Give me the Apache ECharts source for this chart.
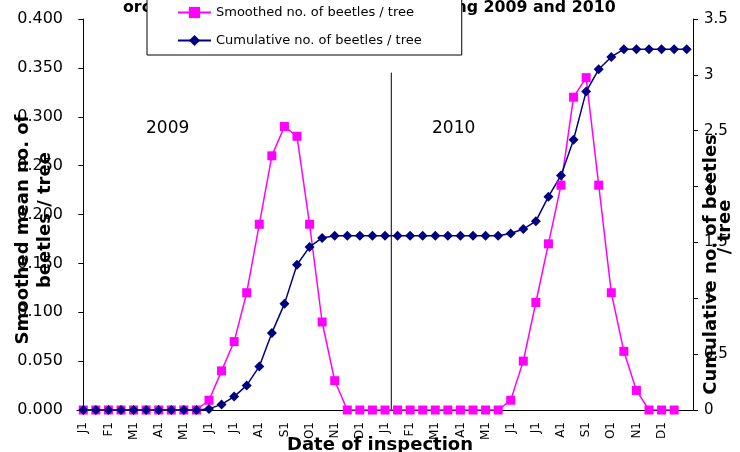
<!DOCTYPE html>
<html>
<head>
<meta charset="utf-8">
<script src="https://cdn.jsdelivr.net/npm/echarts@6/dist/echarts.min.js"></script>
<style>
html, body { margin: 0; padding: 0; background: #fff; }
#chart { width: 740px; height: 452px; }
</style>
</head>
<body>
<div id="chart"></div>
<script>
//检查日期 (每月1日和15日, 2009-2010)
var dates = [
	'J1', 'J15', 'F1', 'F15', 'M1', 'M15', 'A1', 'A15', 'M1', 'M15', 'J1', 'J15',
	'J1', 'J15', 'A1', 'A15', 'S1', 'S15', 'O1', 'O15', 'N1', 'N15', 'D1', 'D15',
	'J1', 'J15', 'F1', 'F15', 'M1', 'M15', 'A1', 'A15', 'M1', 'M15', 'J1', 'J15',
	'J1', 'J15', 'A1', 'A15', 'S1', 'S15', 'O1', 'O15', 'N1', 'N15', 'D1', 'D15',
	'J1'
];
//平滑后每树甲虫数 (左轴)
var smoothed = [
	0, 0, 0, 0, 0, 0, 0, 0, 0, 0, 0.01, 0.04,
	0.07, 0.12, 0.19, 0.26, 0.29, 0.28, 0.19, 0.09, 0.03, 0, 0, 0,
	0, 0, 0, 0, 0, 0, 0, 0, 0, 0, 0.01, 0.05,
	0.11, 0.17, 0.23, 0.32, 0.34, 0.23, 0.12, 0.06, 0.02, 0, 0, 0
];
//累计每树甲虫数 (右轴)
var cumulative = [
	0, 0, 0, 0, 0, 0, 0, 0, 0, 0, 0.01, 0.05,
	0.12, 0.22, 0.39, 0.69, 0.95, 1.30, 1.46, 1.54, 1.56, 1.56, 1.56, 1.56,
	1.56, 1.56, 1.56, 1.56, 1.56, 1.56, 1.56, 1.56, 1.56, 1.56, 1.58, 1.62,
	1.69, 1.91, 2.10, 2.42, 2.85, 3.05, 3.16, 3.23, 3.23, 3.23, 3.23, 3.23,
	3.23
];
var years = ['2009', '2010'];
//年份分隔线 (类别位置, 右轴高度)
var divider = [[24.5, 0], [24.5, 3.02]];

var seriesNames = ['Smoothed no. of beetles / tree', 'Cumulative no. of beetles / tree'];
var font = 'DejaVu Sans';

var myChart = echarts.init(document.getElementById('chart'), null, { renderer: 'canvas' });
myChart.setOption({
	backgroundColor: '#fff',
	animation: false,
	title: {
		text: 'orchards of all the study regions during 2009 and 2010',
		left: 118,
		top: -5,
		z: 1,
		textStyle: { fontFamily: font, fontWeight: 'bold', fontSize: 15.8, color: '#000' }
	},
	legend: {
		data: seriesNames,
		orient: 'vertical',
		left: 147,
		top: -30,
		padding: [36, 40, 8, 30],
		itemGap: 15,
		itemWidth: 33,
		itemHeight: 14,
		backgroundColor: '#fff',
		borderColor: '#000',
		borderWidth: 1,
		z: 10,
		textStyle: { fontFamily: font, fontSize: 13, color: '#000' }
	},
	grid: { left: 77, right: 47, top: 19, bottom: 42, containLabel: false, outerBoundsMode: 'none' },
	xAxis: [{
		type: 'category',
		data: dates,
		boundaryGap: true,
		name: 'Date of inspection',
		nameLocation: 'middle',
		nameGap: 26,
		nameMoveOverlap: false,
		nameTextStyle: { fontFamily: font, fontWeight: 'bold', fontSize: 18, color: '#000', padding: [0, 10, 0, 0] },
		axisLine: { lineStyle: { color: '#000', width: 1 } },
		axisTick: { interval: 0, length: 4, lineStyle: { color: '#000' } },
		axisLabel: {
			rotate: 90,
			margin: 12,
			interval: function(i) { return i % 2 === 0 && i < 48; },
			fontFamily: font,
			fontSize: 12,
			color: '#000'
		},
		splitLine: { show: false }
	}, {
		type: 'value',
		min: -0.5,
		max: 48.5,
		show: false
	}],
	yAxis: [{
		type: 'value',
		position: 'left',
		min: 0,
		max: 0.4,
		interval: 0.05,
		name: 'Smoothed mean no. of\n   beetles / tree',
		nameLocation: 'middle',
		nameRotate: 90,
		nameGap: 21,
		nameMoveOverlap: false,
		nameTextStyle: { fontFamily: font, fontWeight: 'bold', fontSize: 18, color: '#000', lineHeight: 22, padding: [0, 30, 0, 0] },
		axisLine: { show: true, lineStyle: { color: '#000', width: 1 } },
		axisTick: { show: true, length: 5, lineStyle: { color: '#000' } },
		axisLabel: {
			fontFamily: font, fontSize: 16, color: '#000', margin: 14,
			formatter: function(v) { return v.toFixed(3); }
		},
		splitLine: { show: false }
	}, {
		type: 'value',
		position: 'right',
		min: 0,
		max: 3.5,
		interval: 0.5,
		name: 'Cumulative no. of beetles\n            / tree',
		nameLocation: 'middle',
		nameRotate: 90,
		nameGap: 11,
		nameMoveOverlap: false,
		nameTextStyle: { fontFamily: font, fontWeight: 'bold', fontSize: 18, color: '#000', lineHeight: 14, padding: [0, 100, 0, 0] },
		axisLine: { show: true, lineStyle: { color: '#000', width: 1 } },
		axisTick: { show: true, length: 5, lineStyle: { color: '#000' } },
		axisLabel: { fontFamily: font, fontSize: 15, color: '#000', margin: 11 },
		splitLine: { show: false }
	}],
	graphic: [{
		type: 'text', left: 146, top: 120,
		style: { text: years[0], font: '17px "DejaVu Sans"', fill: '#000' }
	}, {
		type: 'text', left: 432, top: 120,
		style: { text: years[1], font: '17px "DejaVu Sans"', fill: '#000' }
	}],
	series: [{
		name: seriesNames[0],
		type: 'line',
		data: smoothed,
		xAxisIndex: 0,
		yAxisIndex: 0,
		symbol: 'rect',
		symbolSize: 9,
		showAllSymbol: true,
		color: '#FF00FF',
		lineStyle: { color: '#FF00FF', width: 1.5 },
		itemStyle: { color: '#FF00FF' }
	}, {
		name: seriesNames[1],
		type: 'line',
		data: cumulative,
		xAxisIndex: 0,
		yAxisIndex: 1,
		symbol: 'diamond',
		symbolSize: 10,
		showAllSymbol: true,
		color: '#000080',
		lineStyle: { color: '#000080', width: 1.5 },
		itemStyle: { color: '#000080' }
	}, {
		name: 'divider',
		type: 'line',
		data: divider,
		xAxisIndex: 1,
		yAxisIndex: 1,
		symbol: 'none',
		silent: true,
		lineStyle: { color: '#000', width: 1 },
		z: 1
	}]
});
</script>
</body>
</html>
